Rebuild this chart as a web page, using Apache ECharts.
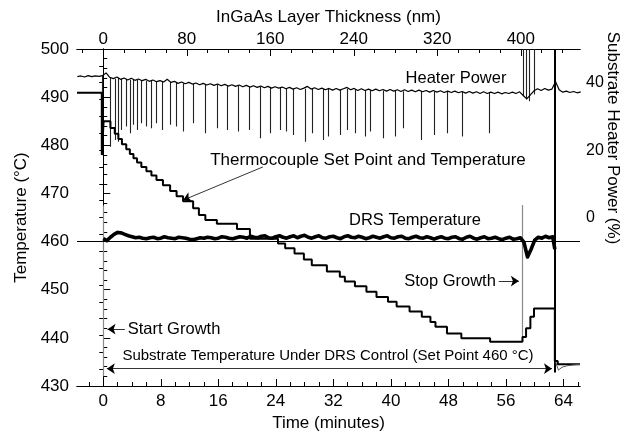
<!DOCTYPE html>
<html>
<head>
<meta charset="utf-8">
<title>DRS temperature control</title>
<script src="https://cdn.jsdelivr.net/npm/echarts@6/dist/echarts.min.js"></script>
<style>
  html, body { margin: 0; padding: 0; background: #fff; }
  #chart { width: 634px; height: 433px; }
</style>
</head>
<body>
<div id="chart"></div>
<script>
// axis ticks
const timeLabels = [0, 8, 16, 24, 32, 40, 48, 56, 64];
const timeMinorTicks = [-2, 2, 4, 6, 10, 12, 14, 18, 20, 22, 26, 28, 30, 34, 36, 38, 42, 44, 46, 50, 52, 54, 58, 60, 62, 66];
const thicknessLabels = [0, 80, 160, 240, 320, 400];
const thicknessMinorTicks = [-20, 20, 40, 60, 100, 120, 140, 180, 200, 220, 260, 280, 300, 340, 360, 380, 420, 440];
const powerLabels = [0, 20, 40];

// heater power (%), one reading every 0.5 min starting at -3.6 min
const heaterStart = -3.6, heaterStep = 0.5;
const heaterPower = [
  41.8, 42.0, 41.7, 42.1, 41.8, 42.0, 41.9, 42.1, 42.9, 41.6,
  41.2, 41.7, 41.0, 41.4, 40.8, 41.3, 40.7, 41.1, 40.6, 41.0,
  40.4, 40.8, 40.3, 40.6, 40.2, 41.0, 40.1, 40.4, 39.8, 40.2,
  39.7, 40.1, 39.6, 39.9, 39.4, 39.8, 39.3, 39.7, 39.2, 39.6,
  39.1, 39.5, 39.0, 39.4, 38.9, 39.3, 38.8, 39.2, 38.7, 39.1,
  38.6, 39.0, 38.5, 38.9, 38.4, 38.8, 38.4, 38.7, 38.2, 38.6,
  38.1, 38.5, 38.0, 38.4, 38.9, 38.1, 38.5, 38.0, 38.4, 37.9,
  38.3, 37.8, 38.3, 37.8, 38.2, 38.6, 37.9, 38.3, 37.7, 38.2,
  37.7, 38.1, 37.6, 38.1, 37.6, 38.0, 37.5, 38.0, 37.5, 37.9,
  37.4, 37.9, 37.4, 37.8, 37.3, 37.8, 37.3, 37.7, 37.2, 37.7,
  37.2, 37.6, 37.1, 37.5, 37.1, 37.5, 37.0, 37.4, 36.9, 37.4,
  36.9, 37.3, 36.8, 37.3, 36.8, 37.2, 36.8, 37.2, 36.7, 37.1,
  36.8, 37.2, 36.8, 37.3, 36.2, 35.2, 36.4, 37.6, 38.2, 37.7,
  38.3, 37.8, 38.1, 40.3, 37.9, 37.2, 37.5, 37.1, 37.4, 37.0,
  37.3
];

// heater power spikes (shutter events): time, level it leaves, level it reaches
const spikeTimes = [-0.2, 0.93, 1.63, 2.09, 2.56, 3.16, 3.71, 4.17, 4.73, 5.34,
  6.04, 6.73, 7.43, 8.26, 9.28, 10.2, 11.1, 12.5, 14.2, 15.8,
  17.2, 18.8, 20.3, 21.8, 23.2, 24.6, 25.4, 26.4, 28.1, 29.0,
  30.6, 31.3, 32.9, 33.9, 35.0, 36.4, 37.2, 39.0, 40.6, 41.7,
  44.2, 46.1, 47.8, 49.9, 53.7, 58.4, 58.8, 59.2, 59.9, 62.75];
const spikeTops = [42.0, 41.6, 41.2, 41.5, 41.1, 41.2, 40.9, 41.0, 40.8, 40.7,
  40.6, 40.6, 40.4, 40.3, 40.3, 39.9, 39.8, 39.6, 39.4, 39.5,
  39.1, 39.2, 38.8, 38.8, 38.7, 38.5, 38.3, 38.2, 38.2, 38.2,
  38.1, 38.1, 37.9, 38.2, 38.0, 37.8, 37.8, 37.7, 37.6, 37.5,
  37.4, 37.4, 37.4, 37.3, 37.1, 50, 50, 50, 50, 50];
const spikeBottoms = [18.5, 21, 23, 22.5, 26, 27, 25, 27.5, 26, 28,
  27, 26.5, 28, 26, 27.5, 27, 25.5, 28, 25, 26.5,
  26, 25.5, 26, 23.5, 25, 26, 25.5, 24.5, 22.5, 25,
  23, 24, 24.5, 26, 25, 24, 25.5, 23.5, 24, 26.5,
  23, 24.5, 25, 24, 25, 36, 35, 34.5, 36.5, -46];

// thermocouple set point / temperature staircase (level starts)
const tcTimes = [-3.65, -0.2, 0.05, 1.0, 1.6, 2.1, 2.6, 3.2, 3.7, 4.2,
  4.7, 5.3, 6.0, 6.7, 7.4, 8.3, 9.3, 10.2, 11.1, 12.5,
  13.3, 14.2, 15.8, 18.6, 20.4, 24.3, 25.3, 26.6, 27.9, 29.0,
  31.1, 32.9, 33.6, 35.0, 36.6, 38.0, 39.6, 40.8, 42.6, 44.3,
  45.5, 46.2, 47.8, 49.8, 53.8, 58.3, 58.8, 59.4, 59.9, 62.8,
  63.2, 66.3];
const tcTemps = [490.9, 478.0, 485.0, 483.6, 482.4, 481.3, 480.2, 479.2, 478.2, 477.3,
  476.4, 475.5, 474.6, 473.7, 472.8, 471.7, 470.5, 469.4, 468.4, 466.9,
  465.5, 464.5, 463.7, 462.6, 460.6, 459.6, 458.6, 457.5, 456.3, 455.1,
  453.8, 452.7, 451.7, 450.7, 449.6, 448.5, 447.5, 446.5, 445.5, 444.4,
  443.3, 442.3, 440.9, 439.9, 439.2, 440.2, 442.0, 444.4, 446.1, 435.2,
  434.5, 434.5];

// thermocouple reading after the end of the run
const tcTailTimes = [62.9, 63.3, 63.8, 64.5, 65.5, 66.3];
const tcTailTemps = [435.0, 433.3, 433.9, 434.2, 434.4, 434.5];

// DRS temperature, one reading every 0.5 min from 0
const drsStart = 0, drsStep = 0.5;
const drsTemp = [
  460.6, 460.2, 460.9, 461.5, 461.9, 461.8, 461.5, 461.2, 461.0, 460.8,
  460.9, 460.7, 460.6, 460.8, 460.9, 460.6, 460.7, 461.0, 460.8, 460.7,
  460.6, 460.9, 460.8, 460.7, 460.5, 460.4, 460.6, 460.8, 460.7, 460.9,
  460.8, 460.6, 460.7, 461.0, 460.9, 460.7, 460.6, 460.8, 461.0, 460.9,
  460.7, 461.1, 460.9, 460.8, 461.1, 461.2, 460.8, 460.7, 461.0, 461.2,
  460.9, 460.7, 461.0, 461.2, 460.8, 461.1, 461.3, 460.9, 460.7, 461.0,
  461.2, 460.8, 460.7, 461.0, 461.1, 460.8, 460.6, 461.0, 461.2, 460.9,
  460.8, 461.1, 460.9, 460.6, 460.8, 461.1, 460.9, 460.7, 461.0, 461.2,
  460.8, 460.7, 461.0, 461.1, 460.7, 460.6, 460.9, 461.1, 460.8, 460.7,
  461.0, 460.8, 460.5, 460.8, 461.0, 460.7, 460.6, 460.9, 461.0, 460.6,
  460.5, 460.9, 461.1, 460.7, 460.5, 460.8, 461.0, 460.6, 460.7, 460.9,
  460.6, 460.4, 460.7, 460.9, 460.5, 460.6, 460.8, 459.9, 456.8, 458.4,
  460.3, 460.9, 460.7, 461.1, 460.8, 461.0
];
const drsLast = [62.8, 458.4];

// axis ranges
const tMin = -3.65, tMax = 66.3;
const nmPerMin = 400 / 58.07;

const FONT = 'Liberation Sans, Arial, sans-serif';
const ink = '#000';

const heaterData = heaterPower.map((v, i) => [heaterStart + i * heaterStep, v]);
const drsData = drsTemp.map((v, i) => [drsStart + i * drsStep, v]).concat([drsLast]);
const tcData = tcTimes.map((t, i) => [t, tcTemps[i]]);
const tcTailData = tcTailTimes.map((t, i) => [t, tcTailTemps[i]]);
// the end-of-run heater swing is drawn heavier than the shutter spikes
const spikeData = spikeTimes.map((t, i) => ({
  coords: [[t, spikeTops[i]], [t, spikeBottoms[i]]],
  lineStyle: spikeBottoms[i] < 0 ? { width: 2, color: ink } : undefined
}));

function tickAxis(pos, min, max, labels, ticks, len, extra) {
  return Object.assign({
    type: 'value', position: pos, min: min, max: max,
    axisLine: { show: true, onZero: false, lineStyle: { color: ink, width: 1 } },
    axisTick: { show: true, inside: true, length: len, customValues: ticks, lineStyle: { color: ink } },
    axisLabel: labels ? { customValues: labels, color: ink, fontSize: 17, fontFamily: FONT, margin: pos === 'top' ? 1 : 7 } : { show: false },
    splitLine: { show: false }
  }, extra || {});
}

const chart = echarts.init(document.getElementById('chart'));
chart.setOption({
  animation: false,
  backgroundColor: '#fff',
  grid: { left: 77, right: 54, top: 49, bottom: 47, containLabel: false, outerBoundsMode: 'none' },
  xAxis: [
    tickAxis('bottom', tMin, tMax, timeLabels, timeLabels, 7, {
      name: 'Time (minutes)', nameLocation: 'middle', nameGap: 28,
      nameTextStyle: { color: ink, fontSize: 17, fontFamily: FONT }
    }),
    tickAxis('bottom', tMin, tMax, null, timeMinorTicks, 4),
    tickAxis('top', tMin * nmPerMin, tMax * nmPerMin, thicknessLabels, thicknessLabels, 7, {
      name: 'InGaAs Layer Thickness (nm)', nameLocation: 'middle', nameGap: 22,
      nameTextStyle: { color: ink, fontSize: 17, fontFamily: FONT }
    }),
    tickAxis('top', tMin * nmPerMin, tMax * nmPerMin, null, thicknessMinorTicks, 4)
  ],
  yAxis: [
    {
      type: 'value', position: 'left', min: 430, max: 500, interval: 10,
      name: 'Temperature (°C)', nameLocation: 'middle', nameGap: 47,
      nameTextStyle: { color: ink, fontSize: 17, fontFamily: FONT },
      axisLine: { show: true, lineStyle: { color: ink } },
      axisTick: { inside: true, length: 7, lineStyle: { color: ink } },
      minorTick: { show: true, splitNumber: 5, length: 4, lineStyle: { color: ink } },
      axisLabel: { color: ink, fontSize: 17, fontFamily: FONT, margin: 8 },
      splitLine: { show: false }
    },
    {
      type: 'value', position: 'right', min: -50, max: 50, interval: 5,
      axisLine: { show: true, lineStyle: { color: ink } },
      axisTick: { inside: true, length: 4, lineStyle: { color: ink } },
      axisLabel: { customValues: powerLabels, color: ink, fontSize: 16, fontFamily: FONT, margin: 6 },
      splitLine: { show: false }
    }
  ],
  series: [
    {
      name: 'Heater Power', type: 'line', xAxisIndex: 0, yAxisIndex: 1,
      data: heaterData, symbol: 'none', lineStyle: { color: '#000', width: 1.2 }, z: 3
    },
    {
      name: 'Heater spikes', type: 'lines', coordinateSystem: 'cartesian2d', xAxisIndex: 0, yAxisIndex: 1,
      data: spikeData, lineStyle: { color: '#222', width: 1.1, opacity: 1 }, z: 3
    },
    {
      name: 'Thermocouple', type: 'line', xAxisIndex: 0, yAxisIndex: 0, step: 'end',
      data: tcData, symbol: 'none', lineStyle: { color: ink, width: 2 }, z: 4,
      markLine: {
        silent: true, symbol: 'none', label: { show: false },
        lineStyle: { color: ink, width: 1, type: 'solid' },
        data: [{ yAxis: 460 }]
      }
    },
    {
      name: 'Thermocouple tail', type: 'line', xAxisIndex: 0, yAxisIndex: 0,
      data: tcTailData, symbol: 'none', lineStyle: { color: '#555', width: 1 }, z: 4
    },
    {
      name: 'DRS Temperature', type: 'line', xAxisIndex: 0, yAxisIndex: 0,
      data: drsData, symbol: 'none', lineStyle: { color: ink, width: 3.6, join: 'round' }, z: 5
    },
    {
      name: 'Growth markers', type: 'lines', coordinateSystem: 'cartesian2d', xAxisIndex: 0, yAxisIndex: 0,
      lineStyle: { color: '#8a8a8a', width: 1.2, opacity: 1 }, z: 2,
      data: [
        { coords: [[0, 467.5], [0, 432.0]] },
        { coords: [[58.3, 467.6], [58.3, 439.4]] }
      ]
    },
    {
      name: 'Arrows', type: 'lines', coordinateSystem: 'cartesian2d', xAxisIndex: 0, yAxisIndex: 0,
      symbol: ['none', 'arrow'], symbolSize: 8,
      lineStyle: { color: ink, width: 0.8, opacity: 1 }, z: 6,
      data: [
        { coords: [[22.2, 475.5], [11.1, 468.6]] },
        { coords: [[55.0, 451.8], [57.8, 451.8]] },
        { coords: [[3.0, 441.8], [0.6, 441.8]] }
      ]
    },
    {
      name: 'DRS control span', type: 'lines', coordinateSystem: 'cartesian2d', xAxisIndex: 0, yAxisIndex: 0,
      symbol: ['arrow', 'arrow'], symbolSize: 8,
      lineStyle: { color: ink, width: 0.8, opacity: 1 }, z: 6,
      data: [{ coords: [[0.5, 433.6], [62.4, 433.6]] }]
    }
  ],
  graphic: [
    { type: 'text', x: 456, y: 78, style: { text: 'Heater Power', font: '16.5px ' + FONT, fill: ink, align: 'center', verticalAlign: 'middle' } },
    { type: 'text', x: 368, y: 160, style: { text: 'Thermocouple Set Point and Temperature', font: '17px ' + FONT, fill: ink, align: 'center', verticalAlign: 'middle' } },
    { type: 'text', x: 415, y: 220, style: { text: 'DRS Temperature', font: '16.5px ' + FONT, fill: ink, align: 'center', verticalAlign: 'middle' } },
    { type: 'text', x: 450, y: 281, style: { text: 'Stop Growth', font: '16.5px ' + FONT, fill: ink, align: 'center', verticalAlign: 'middle' } },
    { type: 'text', x: 174, y: 329, style: { text: 'Start Growth', font: '16.5px ' + FONT, fill: ink, align: 'center', verticalAlign: 'middle' } },
    { type: 'text', x: 328, y: 356, style: { text: 'Substrate Temperature Under DRS Control (Set Point 460 °C)', font: '15px ' + FONT, fill: ink, align: 'center', verticalAlign: 'middle' } },
    { type: 'text', x: 613, y: 138, rotation: -Math.PI / 2, style: { text: 'Substrate Heater Power (%)', font: '17px ' + FONT, fill: ink, align: 'center', verticalAlign: 'middle' } }
  ]
});
</script>
</body>
</html>
